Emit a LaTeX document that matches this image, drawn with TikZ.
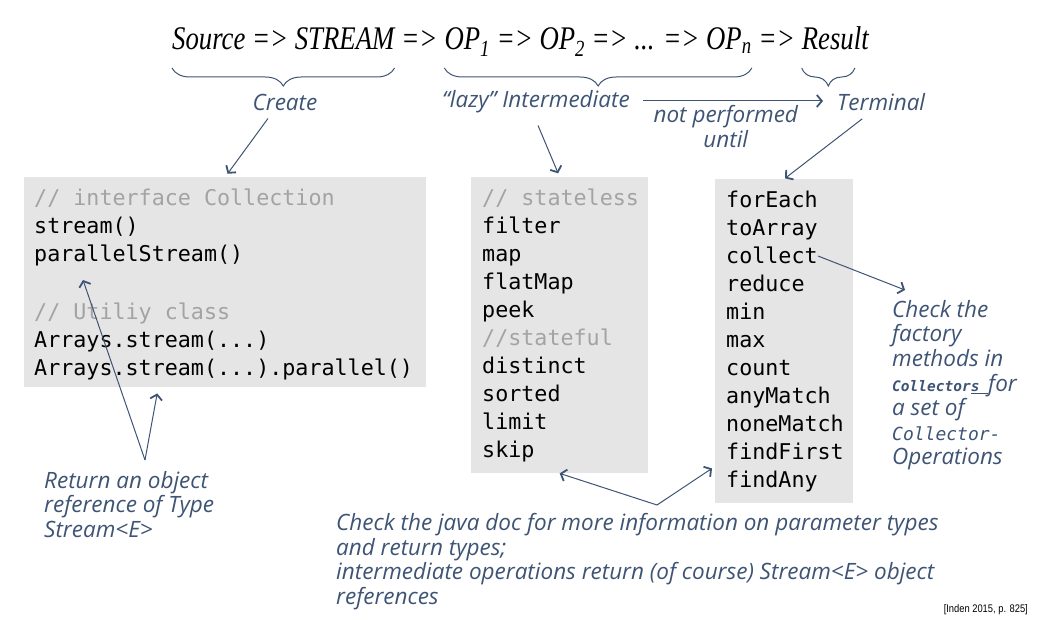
\documentclass[tikz,border=0pt]{standalone}
\usepackage{fontspec}
\setmainfont{Open Sans}
\setmonofont{DejaVu Sans Mono}
\newfontfamily\titlefont[FakeStretch=0.81]{Liberation Serif}
\newfontfamily\citefont[FakeStretch=0.85]{Liberation Sans}
\usetikzlibrary{arrows.meta,positioning,decorations.pathreplacing}
\definecolor{slate}{HTML}{3E5474}
\definecolor{boxgray}{HTML}{E5E5E5}
\definecolor{comment}{HTML}{A3A3A3}
\tikzset{
  >={Straight Barb[length=5pt,width=12pt,line width=1.8pt]},
  codebox/.style={fill=boxgray,anchor=north west,inner sep=0pt},
  code/.style={anchor=north west,align=left,inner sep=0pt,font=\ttfamily\fontsize{21.7}{28}\selectfont},
  note/.style={text=slate,inner sep=0pt,font=\itshape\fontsize{22.5}{24.6}\selectfont},
  title/.style={anchor=base west,inner sep=0pt,font=\titlefont\itshape\fontsize{33}{36}\selectfont},
  pointer/.style={->,draw=slate,line width=1pt},
  stagebrace/.style={draw=slate,line width=1pt,decorate,decoration={brace,mirror,amplitude=18pt}},
}
\newcommand{\cmt}[1]{\textcolor{comment}{#1}}
\newcommand{\firstline}{\rule{0pt}{17pt}}

\begin{document}
\begin{tikzpicture}[x=1pt,y=1pt]
  \useasboundingbox (0,0) rectangle (1042,-620);
  % the pipeline
  \node[title] (srcT) at (172,-50) {Source => STREAM};
  \node[title] (arrA) at (srcT.base east) {\ =>\ \mbox{}};
  \node[title] (opsT) at (arrA.base east) {OP\textsubscript{1} => OP\textsubscript{2} => ... => OP\textsubscript{n}};
  \node[title] (arrB) at (opsT.base east) {\ =>\ \mbox{}};
  \node[title] (resT) at (arrB.base east) {Result};
  \draw[stagebrace] ([yshift=-18pt]srcT.base west) -- ([yshift=-18pt]srcT.base east);
  \draw[stagebrace] ([yshift=-18pt]opsT.base west) -- ([yshift=-18pt]opsT.base east);
  \draw[stagebrace] ([yshift=-18pt]resT.base west) -- ([yshift=-18pt,xshift=-14pt]resT.base east);

  % stage labels
  \node[note] (createL) at (285,-102) {Create};
  \node[note] (lazyL) at (536,-102) {“lazy” Intermediate};
  \node[note,anchor=west] (termL) at (837,-102) {Terminal};
  \draw[pointer] ([xshift=-14pt,yshift=1pt]lazyL.east -| termL.west) coordinate (untilEnd)
    ([xshift=-180pt]untilEnd) -- node[pos=0.46,note,below=4pt,align=center] {not performed\\until} (untilEnd);

  % code boxes
  \node[codebox,minimum width=402pt,minimum height=210pt] (createBox) at (24,-177) {};
  \node[code] (createCode) at (34,-188) {\firstline\cmt{// interface Collection}\\stream()\\parallelStream()\\[30pt]\cmt{// Utiliy class}\\Arrays.stream(...)\\Arrays.stream(...).parallel()};
  \node[codebox,minimum width=177pt,minimum height=296pt] (lazyBox) at (471,-177) {};
  \node[code] (lazyCode) at (482,-188) {\firstline\cmt{// stateless}\\filter\\map\\flatMap\\peek\\\cmt{//stateful}\\distinct\\sorted\\limit\\skip};
  \node[codebox,minimum width=138pt,minimum height=324pt] (termBox) at (715,-179) {};
  \node[code] (termCode) at (726,-190) {\firstline forEach\\toArray\\collect\\reduce\\min\\max\\count\\anyMatch\\noneMatch\\findFirst\\findAny};

  \draw[pointer,shorten >=4pt] ([xshift=-17pt,yshift=-8pt]createL.south) -- (createBox.north);
  \draw[pointer,shorten >=4pt] ([xshift=2pt,yshift=-12pt]lazyL.south) -- (lazyBox.north);
  \draw[pointer,shorten >=1pt] ([xshift=-19pt,yshift=-8pt]termL.south) -- (termBox.north);

  % side notes
  \node[note,anchor=north west,align=left] (checkL) at (892,-300) {Check the\\factory\\methods in\\{\ttfamily\bfseries\fontsize{14.5}{24}\selectfont Collector\underline{s\ }}for\\a set of\\{\ttfamily\fontsize{18}{24}\selectfont Collector-}\\Operations};
  \coordinate (collectPt) at (818,-256);
  \draw[pointer] (collectPt) -- ([xshift=13pt,yshift=10pt]checkL.north west);

  \node[note,anchor=north west,align=left] (returnL) at (44,-471) {Return an object\\reference of Type\\Stream<E>};
  \coordinate (returnApex) at (145,-460);
  \draw[pointer] (returnApex) -- (83,-280);
  \draw[pointer] (returnApex) -- ([xshift=-68pt,yshift=-6pt]createBox.south);

  \node[note,anchor=north west,align=left] (docL) at (336,-513) {Check the java doc for more information on parameter types\\and return types;\\intermediate operations return (of course) Stream<E> object\\references};
  \coordinate (docApex) at (657,-505);
  \draw[pointer] (docApex) -- (lazyBox.south);
  \draw[pointer] (docApex) -- ([xshift=-3pt,yshift=35pt]termBox.south west);

  \node[anchor=base east,inner sep=0pt,font=\citefont\fontsize{11}{13}\selectfont] (citeL) at (1028,-612) {[Inden 2015, p. 825]};
\end{tikzpicture}
\end{document}
